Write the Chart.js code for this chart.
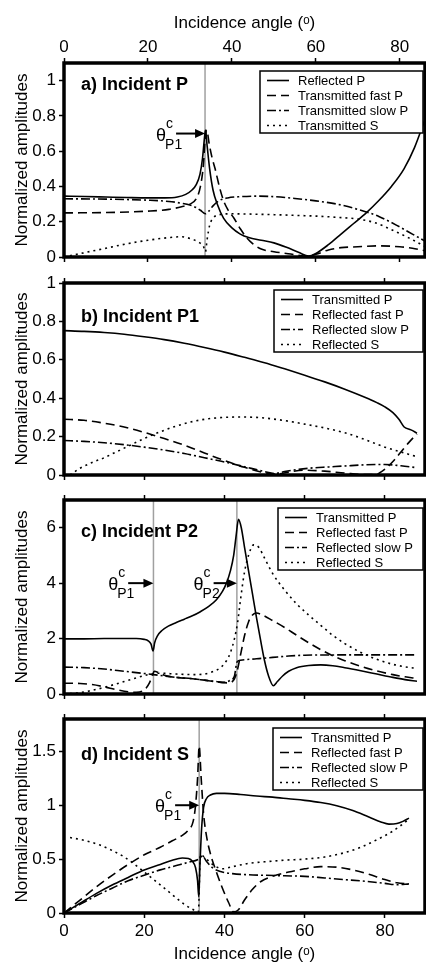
<!DOCTYPE html>
<html>
<head>
<meta charset="utf-8">
<script src="https://cdn.jsdelivr.net/npm/chart.js@4.4.1/dist/chart.umd.min.js"></script>
<style>
  body { margin: 0; background: #fff; }
  #wrap { position: relative; width: 426px; height: 965px; }
  #wrap canvas { position: absolute; left: 0; top: 0; }
</style>
</head>
<body>
<div id="wrap">
  <canvas id="pa" width="426" height="965"></canvas>
  <canvas id="pb" width="426" height="965"></canvas>
  <canvas id="pc" width="426" height="965"></canvas>
  <canvas id="pd" width="426" height="965"></canvas>
</div>
<script>
// tick values
const angleTicks = [0, 20, 40, 60, 80];
const ampTicksA = [0, 0.2, 0.4, 0.6, 0.8, 1];
const ampTicksB = [0, 0.2, 0.4, 0.6, 0.8, 1];
const ampTicksC = [0, 2, 4, 6];
const ampTicksD = [0, 0.5, 1, 1.5];

// a) incident P  -- [angle, amplitude]
const aLabels = ['Reflected P', 'Transmitted fast P', 'Transmitted slow P', 'Transmitted S'];
const aReflP = [[0,0.345],[5,0.343],[10,0.34],[15,0.337],[20,0.335],[24,0.335],[27,0.34],[29,0.355],[30.5,0.38],[31.5,0.41],[32.4,0.47],[33,0.56],[33.4,0.66],[33.7,0.72],[34.1,0.63],[34.7,0.5],[35.5,0.38],[36.5,0.3],[38,0.22],[40,0.165],[42,0.13],[44,0.11],[47,0.095],[50,0.08],[53,0.055],[56,0.025],[58.3,0.005],[60,0.02],[63,0.07],[66,0.13],[69,0.19],[72,0.25],[75,0.32],[78,0.4],[81,0.5],[83.5,0.62],[86,0.78]];
const aFastP = [[0,0.25],[10,0.252],[20,0.26],[25,0.27],[28,0.285],[30,0.3],[31.5,0.33],[32.5,0.4],[33.2,0.52],[33.6,0.66],[34,0.72],[34.6,0.64],[35.3,0.56],[36,0.5],[37,0.4],[38,0.32],[39,0.27],[40.5,0.22],[42,0.16],[43.5,0.11],[45,0.075],[47,0.045],[50,0.03],[54,0.017],[58,0.003],[60,0.015],[63,0.04],[66,0.053],[70,0.058],[75,0.063],[80,0.058],[83,0.05],[86,0.035]];
const aSlowP = [[0,0.33],[10,0.328],[20,0.322],[25,0.315],[28,0.305],[30,0.295],[31.5,0.28],[32.5,0.265],[33.7,0.245],[34.5,0.26],[35.5,0.29],[37,0.32],[39,0.335],[42,0.342],[46,0.345],[50,0.342],[55,0.332],[60,0.318],[65,0.3],[70,0.27],[75,0.23],[80,0.17],[83,0.13],[86,0.09]];
const aTransS = [[0,0],[5,0.025],[10,0.05],[15,0.075],[20,0.095],[25,0.11],[28,0.115],[30,0.105],[32,0.085],[33.2,0.06],[33.7,0.03],[34.1,0.1],[34.7,0.18],[35.5,0.22],[37,0.24],[40,0.245],[45,0.243],[50,0.24],[55,0.236],[60,0.232],[65,0.225],[70,0.215],[74,0.195],[78,0.155],[82,0.11],[86,0.06]];

// b) incident P1
const bLabels = ['Transmitted P', 'Reflected fast P', 'Reflected slow P', 'Reflected S'];
const bTransP = [[0,0.752],[5,0.748],[10,0.742],[15,0.733],[20,0.72],[25,0.705],[30,0.686],[35,0.664],[40,0.64],[45,0.613],[50,0.585],[55,0.553],[60,0.52],[65,0.485],[70,0.447],[75,0.405],[78,0.377],[80,0.355],[82,0.325],[83.5,0.29],[84.8,0.25],[86.5,0.235],[88,0.218]];
const bFastP = [[0,0.29],[5,0.285],[10,0.27],[15,0.25],[20,0.222],[25,0.19],[30,0.155],[35,0.115],[40,0.075],[45,0.04],[50,0.012],[53,0.005],[56,0.015],[60,0.025],[65,0.02],[70,0.01],[75,0.002],[78,0.005],[80,0.03],[82,0.07],[84,0.12],[86,0.17],[88,0.215]];
const bSlowP = [[0,0.18],[5,0.175],[10,0.168],[15,0.158],[20,0.145],[25,0.13],[30,0.112],[35,0.09],[40,0.068],[45,0.043],[50,0.018],[52.5,0.008],[55,0.018],[58,0.028],[62,0.037],[66,0.042],[70,0.047],[75,0.053],[80,0.055],[84,0.048],[88,0.038]];
const bReflS = [[1.5,0],[4,0.035],[7,0.065],[10,0.09],[13,0.12],[16,0.15],[20,0.19],[24,0.225],[28,0.255],[32,0.278],[36,0.293],[40,0.3],[44,0.302],[48,0.3],[52,0.292],[56,0.28],[60,0.265],[65,0.245],[70,0.22],[75,0.185],[80,0.145],[84,0.12],[88,0.095]];

// c) incident P2
const cLabels = ['Transmitted P', 'Reflected fast P', 'Reflected slow P', 'Reflected S'];
const cTransP = [[0,1.99],[5,1.99],[10,2.0],[15,2.0],[18,2.0],[20,1.97],[21,1.92],[21.7,1.8],[22.2,1.55],[22.6,1.85],[23.3,2.1],[24.5,2.3],[26,2.45],[28,2.58],[30,2.7],[32,2.82],[34,2.97],[36,3.15],[38,3.4],[39.5,3.7],[40.5,4.0],[41.5,4.45],[42.3,5.0],[42.9,5.7],[43.5,6.3],[44.2,6.0],[45,5.3],[46,4.45],[47,3.6],[48,2.75],[49,1.95],[50,1.2],[51,0.65],[52.2,0.3],[53.2,0.45],[54.5,0.65],[56,0.82],[58,0.95],[61,1.03],[64,1.05],[67,1.02],[70,0.95],[74,0.84],[78,0.72],[82,0.6],[85,0.52],[88,0.46]];
const cFastP = [[0,0.39],[4,0.38],[7,0.34],[10,0.26],[13,0.16],[16,0.08],[18,0.06],[19.5,0.1],[20.5,0.22],[21.3,0.4],[22,0.65],[22.5,0.82],[23.5,0.78],[25,0.68],[28,0.6],[32,0.55],[36,0.48],[39,0.42],[41,0.4],[42.5,0.55],[43.2,0.85],[44,1.4],[45,2.1],[46,2.6],[47,2.85],[48,2.92],[49.5,2.85],[52,2.65],[55,2.4],[58,2.12],[61,1.85],[64,1.6],[67,1.38],[70,1.2],[74,1.0],[78,0.83],[82,0.7],[85,0.62],[88,0.56]];
const cSlowP = [[0,0.97],[5,0.95],[10,0.9],[15,0.82],[20,0.74],[22.3,0.7],[25,0.65],[28,0.6],[32,0.55],[35,0.5],[38,0.45],[40,0.42],[41.5,0.5],[42.5,0.65],[43.1,1.15],[44,1.22],[48,1.27],[52,1.32],[56,1.37],[60,1.4],[70,1.41],[80,1.41],[88,1.41]];
const cReflS = [[0,0],[3,0.03],[6,0.1],[9,0.2],[12,0.32],[15,0.45],[18,0.58],[21,0.7],[24,0.75],[28,0.72],[32,0.7],[35,0.72],[37,0.8],[39,0.95],[40.5,1.2],[41.5,1.5],[42.5,2.0],[43.3,2.6],[44,3.4],[45,4.4],[46,5.0],[47.3,5.38],[48.5,5.3],[50,4.9],[52,4.35],[55,3.75],[58,3.25],[61,2.85],[64,2.48],[67,2.12],[70,1.82],[74,1.5],[78,1.25],[82,1.07],[85,0.98],[88,0.92]];

// d) incident S
const dLabels = ['Transmitted P', 'Reflected fast P', 'Reflected slow P', 'Reflected S'];
const dTransP = [[0,0],[4,0.09],[8,0.18],[12,0.26],[16,0.33],[20,0.4],[24,0.45],[27,0.49],[29.5,0.51],[31,0.505],[32,0.48],[32.8,0.42],[33.3,0.3],[33.6,0.15],[33.9,0.45],[34.3,0.78],[34.8,0.98],[35.5,1.06],[36.5,1.095],[38,1.11],[40,1.11],[44,1.1],[48,1.085],[52,1.075],[56,1.06],[60,1.045],[64,1.025],[68,0.995],[72,0.95],[76,0.89],[79,0.845],[81,0.825],[83,0.83],[84.5,0.85],[86,0.88]];
const dFastP = [[0,0],[4,0.12],[8,0.24],[12,0.35],[16,0.45],[20,0.54],[24,0.61],[27,0.67],[29.5,0.72],[31,0.77],[32.2,0.85],[32.8,1.0],[33.3,1.25],[33.7,1.55],[34.2,1.25],[34.8,0.92],[35.5,0.72],[36.5,0.55],[38,0.38],[39.5,0.23],[41,0.1],[42.3,0.01],[43.5,0.03],[45,0.12],[47,0.22],[49,0.29],[52,0.34],[56,0.38],[60,0.41],[64,0.43],[68,0.425],[72,0.4],[76,0.36],[80,0.31],[83,0.28],[86,0.27]];
const dSlowP = [[0,0],[4,0.08],[8,0.16],[12,0.23],[16,0.3],[20,0.35],[24,0.4],[28,0.44],[31,0.47],[33.6,0.5],[34.5,0.53],[35.5,0.48],[37,0.42],[39,0.385],[42,0.365],[46,0.355],[50,0.35],[55,0.345],[60,0.34],[65,0.325],[70,0.31],[75,0.295],[80,0.275],[83,0.262],[86,0.27]];
const dReflS = [[1.5,0.7],[5,0.675],[9,0.63],[12,0.58],[15,0.52],[18,0.44],[21,0.35],[24,0.26],[27,0.17],[30,0.08],[32,0.035],[33.5,0.01],[34,0.54],[35.5,0.5],[37.5,0.44],[39.5,0.41],[42,0.43],[46,0.46],[50,0.475],[55,0.49],[60,0.5],[65,0.52],[70,0.56],[74,0.61],[78,0.68],[82,0.76],[86,0.87]];

const FONT = '"Liberation Sans", Arial, Helvetica, sans-serif';
const dashes = [[], [9, 5], [9, 3, 2, 3], [2, 4]];

// critical-angle lines, arrows, frame, legend box and panel label
const panelPlugin = {
  id: 'panel',
  beforeDatasetsDraw(chart, args, o) {
    const { ctx, chartArea: a, scales: { x } } = chart;
    ctx.save();
    ctx.strokeStyle = '#a0a0a0';
    ctx.lineWidth = 1.5;
    o.marks.forEach(m => {
      const px = x.getPixelForValue(m.angle);
      ctx.beginPath();
      ctx.moveTo(px, a.top);
      ctx.lineTo(px, a.bottom);
      ctx.stroke();
    });
    ctx.restore();
  },
  afterDatasetsDraw(chart, args, o) {
    const { ctx, chartArea: a, scales: { x, y } } = chart;
    ctx.save();
    ctx.fillStyle = '#000';
    ctx.strokeStyle = '#000';

    o.marks.forEach(m => {
      const x0 = x.getPixelForValue(m.from);
      const x1 = x.getPixelForValue(m.angle);
      const py = y.getPixelForValue(m.level);
      ctx.lineWidth = 2;
      ctx.beginPath();
      ctx.moveTo(x0, py);
      ctx.lineTo(x1 - 8, py);
      ctx.stroke();
      ctx.beginPath();
      ctx.moveTo(x1, py);
      ctx.lineTo(x1 - 10, py - 4.5);
      ctx.lineTo(x1 - 10, py + 4.5);
      ctx.closePath();
      ctx.fill();
      const tx = x0 - 10;
      ctx.textAlign = 'right';
      ctx.textBaseline = 'alphabetic';
      ctx.font = '18px ' + FONT;
      ctx.fillText('θ', tx, py + 7);
      ctx.textAlign = 'left';
      ctx.font = '14px ' + FONT;
      ctx.fillText('c', tx, py - 6);
      ctx.fillText(m.label, tx - 1, py + 15);
    });

    ctx.lineWidth = 3.5;
    ctx.strokeRect(a.left, a.top, a.right - a.left, a.bottom - a.top);

    const L = o.legend;
    const lx = a.right - 2 - L.w, ly = a.top + L.dy;
    ctx.fillStyle = '#fff';
    ctx.fillRect(lx, ly, L.w, 62);
    ctx.lineWidth = 1.5;
    ctx.strokeRect(lx, ly, L.w, 62);
    ctx.fillStyle = '#000';
    ctx.font = '13px ' + FONT;
    ctx.textAlign = 'left';
    ctx.textBaseline = 'middle';
    chart.data.datasets.forEach((ds, i) => {
      const ry = ly + 9.5 + i * 15;
      ctx.lineWidth = 1.6;
      ctx.setLineDash(ds.borderDash);
      ctx.beginPath();
      ctx.moveTo(lx + 7, ry);
      ctx.lineTo(lx + 29, ry);
      ctx.stroke();
      ctx.setLineDash([]);
      ctx.fillText(ds.label, lx + 38, ry + 0.5);
    });

    ctx.font = 'bold 18px ' + FONT;
    ctx.textBaseline = 'alphabetic';
    ctx.fillText(o.title, a.left + 17, a.top + o.titleDy);
    ctx.restore();
  }
};

function makePanel(id, p) {
  const tickFont = { family: FONT, size: 17 };
  const xAxis = (pos, labels, h) => ({
    type: 'linear',
    position: pos,
    min: 0,
    max: p.xMax,
    afterBuildTicks: s => { s.ticks = angleTicks.map(v => ({ value: v })); },
    afterFit: s => { s.height = h; },
    grid: { drawOnChartArea: false, drawTicks: true, tickLength: 5, tickWidth: 1.5, color: '#000' },
    border: { display: false },
    ticks: { display: labels, color: '#000', font: tickFont, padding: pos === 'top' ? 0 : 3, maxRotation: 0 },
    title: {
      display: labels,
      text: 'Incidence angle (ᵒ)',
      color: '#000',
      font: tickFont,
      padding: pos === 'top' ? { top: 13, bottom: 0 } : { top: 0, bottom: 0 }
    }
  });

  new Chart(document.getElementById(id), {
    type: 'line',
    data: {
      datasets: p.series.map((s, i) => ({
        label: p.labels[i],
        data: s.map(([ang, amp]) => ({ x: ang, y: amp })),
        borderColor: '#000',
        borderWidth: 1.6,
        borderDash: dashes[i],
        pointRadius: 0,
        fill: false,
        cubicInterpolationMode: 'monotone'
      }))
    },
    options: {
      responsive: false,
      animation: false,
      events: [],
      layout: { autoPadding: false, padding: { top: p.padTop, bottom: p.padBottom, left: 0, right: 1 } },
      plugins: {
        legend: { display: false },
        tooltip: { enabled: false },
        panel: { marks: p.marks, legend: p.legend, title: p.title, titleDy: p.titleDy }
      },
      scales: {
        x: xAxis('top', p.topLabels, p.topH),
        xb: xAxis('bottom', p.bottomLabels, p.bottomH),
        y: {
          type: 'linear',
          min: 0,
          max: p.yMax,
          afterBuildTicks: s => { s.ticks = p.yTicks.map(v => ({ value: v })); },
          afterFit: s => { s.width = 64; },
          grid: { drawOnChartArea: false, drawTicks: true, tickLength: 5, tickWidth: 1.5, color: '#000' },
          border: { display: false },
          ticks: { color: '#000', font: tickFont, padding: 3, callback: v => String(v) },
          title: { display: true, text: 'Normalized amplitudes', color: '#000', font: tickFont, padding: { top: 12, bottom: 0 } }
        }
      }
    },
    plugins: [panelPlugin]
  });
}

makePanel('pa', {
  title: 'a) Incident P', titleDy: 27,
  labels: aLabels, series: [aReflP, aFastP, aSlowP, aTransS],
  xMax: 86, yMax: 1.1, yTicks: ampTicksA,
  topLabels: true, topH: 63, bottomLabels: false, bottomH: 6,
  padTop: 0, padBottom: 702,
  legend: { w: 163, dy: 8 },
  marks: [{ angle: 33.6, from: 26.7, level: 0.7, label: 'P1' }]
});

makePanel('pb', {
  title: 'b) Incident P1', titleDy: 39,
  labels: bLabels, series: [bTransP, bFastP, bSlowP, bReflS],
  xMax: 90, yMax: 1, yTicks: ampTicksB,
  topLabels: false, topH: 6, bottomLabels: false, bottomH: 6,
  padTop: 277, padBottom: 484,
  legend: { w: 149, dy: 7 },
  marks: []
});

makePanel('pc', {
  title: 'c) Incident P2', titleDy: 37,
  labels: cLabels, series: [cTransP, cFastP, cSlowP, cReflS],
  xMax: 90, yMax: 7, yTicks: ampTicksC,
  topLabels: false, topH: 6, bottomLabels: false, bottomH: 6,
  padTop: 494, padBottom: 265,
  legend: { w: 145, dy: 8 },
  marks: [
    { angle: 22.3, from: 16, level: 4, label: 'P1' },
    { angle: 43.1, from: 37.3, level: 4, label: 'P2' }
  ]
});

makePanel('pd', {
  title: 'd) Incident S', titleDy: 41,
  labels: dLabels, series: [dTransP, dFastP, dSlowP, dReflS],
  xMax: 90, yMax: 1.8, yTicks: ampTicksD,
  topLabels: false, topH: 6, bottomLabels: true, bottomH: 52,
  padTop: 713, padBottom: 0,
  legend: { w: 150, dy: 9 },
  marks: [{ angle: 33.7, from: 27.7, level: 1, label: 'P1' }]
});
</script>
</body>
</html>
